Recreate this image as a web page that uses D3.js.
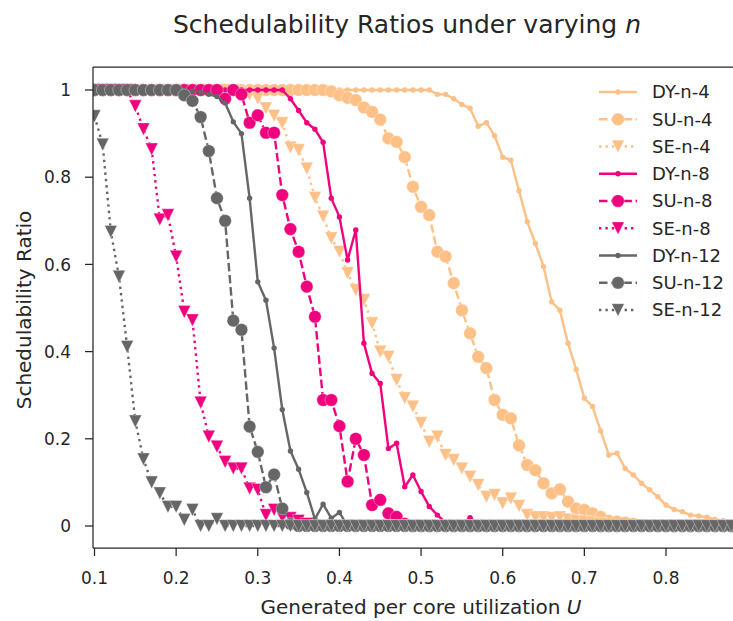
<!DOCTYPE html>
<html>
<head>
<meta charset="utf-8">
<script src="https://cdn.jsdelivr.net/npm/d3@7"></script>
<style>
  body { margin: 0; background: #fff; }
  text { font-family: "DejaVu Sans", sans-serif; fill: #262626; }
</style>
</head>
<body>
<svg id="chart" width="733" height="621"></svg>
<script>
// generated per core utilization U (x values)
var U = [0.10,0.11,0.12,0.13,0.14,0.15,0.16,0.17,0.18,0.19,
         0.20,0.21,0.22,0.23,0.24,0.25,0.26,0.27,0.28,0.29,
         0.30,0.31,0.32,0.33,0.34,0.35,0.36,0.37,0.38,0.39,
         0.40,0.41,0.42,0.43,0.44,0.45,0.46,0.47,0.48,0.49,
         0.50,0.51,0.52,0.53,0.54,0.55,0.56,0.57,0.58,0.59,
         0.60,0.61,0.62,0.63,0.64,0.65,0.66,0.67,0.68,0.69,
         0.70,0.71,0.72,0.73,0.74,0.75,0.76,0.77,0.78,0.79,
         0.80,0.81,0.82,0.83,0.84,0.85,0.86,0.87,0.88,0.89,
         0.90];

var dy4 = [1,1,1,1,1,1,1,1,1,1,
           1,1,1,1,1,1,1,1,1,1,
           1,1,1,1,1,1,1,1,1,1,
           1,1,1,1,1,1,1,1,1,1,
           1,1,0.99,0.99,0.98,0.967,0.958,0.917,0.925,0.895,
           0.846,0.839,0.769,0.698,0.648,0.595,0.514,0.495,0.419,0.359,
           0.293,0.274,0.218,0.163,0.167,0.132,0.117,0.098,0.083,0.067,
           0.048,0.038,0.033,0.025,0.023,0.02,0.015,0.012,0.01,0.008,
           0.005];
var su4 = [1,1,1,1,1,1,1,1,1,1,
           1,1,1,1,1,1,1,1,1,1,
           1,1,1,1,1,1,1,1,1,0.997,
           0.988,0.982,0.977,0.96,0.95,0.932,0.889,0.881,0.846,0.778,
           0.732,0.713,0.629,0.618,0.557,0.495,0.442,0.388,0.362,0.289,
           0.255,0.247,0.185,0.14,0.128,0.098,0.075,0.084,0.056,0.04,
           0.037,0.029,0.021,0.012,0.01,0.008,0.005,0.003,0,0,
           0,0,0,0,0,0,0,0,0,0,
           0];
var se4 = [1,1,1,1,1,1,1,1,1,1,
           1,1,1,1,1,1,1,1,0.995,0.99,
           0.981,0.958,0.941,0.924,0.868,0.862,0.82,0.753,0.71,0.66,
           0.629,0.58,0.541,0.518,0.465,0.40,0.388,0.335,0.293,0.274,
           0.236,0.193,0.205,0.163,0.151,0.132,0.113,0.094,0.067,0.071,
           0.052,0.063,0.046,0.025,0.02,0.02,0.018,0.02,0.015,0.012,
           0.01,0.008,0.005,0,0,0,0,0,0,0,
           0,0,0,0,0,0,0,0,0,0,
           0];
var dy8 = [1,1,1,1,1,1,1,1,1,1,
           1,1,1,1,1,1,1,1,1,1,
           1,1,1,1,0.98,0.953,0.925,0.91,0.88,0.752,
           0.709,0.61,0.679,0.419,0.35,0.327,0.178,0.19,0.09,0.117,
           0.079,0.045,0.025,0.008,0.005,0.005,0.019,0.005,0,0,
           0,0,0,0,0,0,0,0,0,0,
           0,0,0,0,0,0,0,0,0,0,
           0,0,0,0,0,0,0,0,0,0,
           0];
var su8 = [1,1,1,1,1,1,1,1,1,1,
           1,1,1,1,1,1,0.98,1,0.99,0.925,
           0.942,0.902,0.902,0.759,0.681,0.629,0.549,0.48,0.289,0.289,
           0.229,0.102,0.2,0.163,0.048,0.06,0.029,0.021,0.005,0,
           0,0,0,0,0,0,0,0,0,0,
           0,0,0,0,0,0,0,0,0,0,
           0,0,0,0,0,0,0,0,0,0,
           0,0,0,0,0,0,0,0,0,0,
           0];
var se8 = [1,1,1,1,1,0.963,0.91,0.864,0.703,0.713,
           0.618,0.491,0.472,0.283,0.205,0.182,0.147,0.132,0.132,0.086,
           0.083,0.025,0.037,0.021,0.018,0.012,0.005,0,0,0,
           0,0,0,0,0,0,0,0,0,0,
           0,0,0,0,0,0,0,0,0,0,
           0,0,0,0,0,0,0,0,0,0,
           0,0,0,0,0,0,0,0,0,0,
           0,0,0,0,0,0,0,0,0,0,
           0];
var dy12 = [1,1,1,1,1,1,1,1,1,1,
            1,1,0.998,0.995,0.99,0.985,0.97,0.927,0.9,0.752,
            0.56,0.518,0.408,0.267,0.172,0.13,0.077,0.016,0.05,0.018,
            0.031,0,0,0,0,0,0,0,0,0,
            0,0,0,0,0,0,0,0,0,0,
            0,0,0,0,0,0,0,0,0,0,
            0,0,0,0,0,0,0,0,0,0,
            0,0,0,0,0,0,0,0,0,0,
            0];
var su12 = [1,1,1,1,1,1,1,1,1,1,
            1,0.988,0.975,0.938,0.86,0.752,0.7,0.471,0.45,0.228,
            0.17,0.089,0.118,0.04,0.005,0,0,0,0,0,
            0,0,0,0,0,0,0,0,0,0,
            0,0,0,0,0,0,0,0,0,0,
            0,0,0,0,0,0,0,0,0,0,
            0,0,0,0,0,0,0,0,0,0,
            0,0,0,0,0,0,0,0,0,0,
            0];
var se12 = [0.94,0.875,0.675,0.572,0.411,0.24,0.153,0.1,0.075,0.044,
            0.044,0.014,0.037,0,0,0.016,0,0,0,0,
            0,0,0,0,0,0,0,0,0,0,
            0,0,0,0,0,0,0,0,0,0,
            0,0,0,0,0,0,0,0,0,0,
            0,0,0,0,0,0,0,0,0,0,
            0,0,0,0,0,0,0,0,0,0,
            0,0,0,0,0,0,0,0,0,0,
            0];

var names = ["DY-n-4","SU-n-4","SE-n-4","DY-n-8","SU-n-8","SE-n-8","DY-n-12","SU-n-12","SE-n-12"];
var colours = ["#fdc086","#f0027f","#666666"];
var xTicks = [0.1,0.2,0.3,0.4,0.5,0.6,0.7,0.8];
var yTicks = [0,0.2,0.4,0.6,0.8,1];

var series = [
  {name: names[0], values: dy4, colour: colours[0], kind: "DY"},
  {name: names[1], values: su4, colour: colours[0], kind: "SU"},
  {name: names[2], values: se4, colour: colours[0], kind: "SE"},
  {name: names[3], values: dy8, colour: colours[1], kind: "DY"},
  {name: names[4], values: su8, colour: colours[1], kind: "SU"},
  {name: names[5], values: se8, colour: colours[1], kind: "SE"},
  {name: names[6], values: dy12, colour: colours[2], kind: "DY"},
  {name: names[7], values: su12, colour: colours[2], kind: "SU"},
  {name: names[8], values: se12, colour: colours[2], kind: "SE"}
];

var lw = 2.4;
var dashes = {DY: null, SU: "8.5,3.7", SE: "2.4,4"};

var svg = d3.select("#chart");
var axLeft = 93, axTop = 67, axBottom = 548, axRight = 760;

var x = d3.scaleLinear().domain([0.1, 0.8]).range([94.5, 666]);
var y = d3.scaleLinear().domain([0, 1]).range([526, 90]);

svg.append("rect").attr("width", 733).attr("height", 621).attr("fill", "#fff");

svg.append("clipPath").attr("id", "plotclip")
  .append("rect")
    .attr("x", axLeft).attr("y", axTop)
    .attr("width", axRight - axLeft).attr("height", axBottom - axTop);

// draw a marker of a given kind into a selection
function marker(g, kind, colour, cx, cy) {
  if (kind == "DY") {
    g.append("circle").attr("cx", cx).attr("cy", cy).attr("r", 2.7)
      .attr("fill", colour);
  } else if (kind == "SU") {
    g.append("circle").attr("cx", cx).attr("cy", cy).attr("r", 6.3)
      .attr("fill", colour).attr("stroke", "#fff").attr("stroke-width", 0.35);
  } else {
    var s = 6.3;
    g.append("path")
      .attr("d", "M" + (cx - s) + "," + (cy - s) + "L" + (cx + s) + "," + (cy - s) + "L" + cx + "," + (cy + s) + "Z")
      .attr("fill", colour).attr("stroke", "#fff").attr("stroke-width", 0.35);
  }
}

var plot = svg.append("g").attr("clip-path", "url(#plotclip)");

var line = d3.line()
  .x(function(d, i){ return x(U[i]); })
  .y(function(d){ return y(d); });

series.forEach(function(s) {
  var g = plot.append("g");
  g.append("path")
    .attr("d", line(s.values))
    .attr("fill", "none")
    .attr("stroke", s.colour)
    .attr("stroke-width", lw)
    .attr("stroke-linejoin", "round")
    .attr("stroke-dasharray", dashes[s.kind]);
  s.values.forEach(function(v, i){ marker(g, s.kind, s.colour, x(U[i]), y(v)); });
});

// spines
svg.append("line").attr("x1", axLeft).attr("x2", axLeft).attr("y1", axTop).attr("y2", axBottom)
  .attr("stroke", "#262626").attr("stroke-width", 1.25);
svg.append("line").attr("x1", axLeft).attr("x2", axRight).attr("y1", axBottom).attr("y2", axBottom)
  .attr("stroke", "#262626").attr("stroke-width", 1.25);
svg.append("line").attr("x1", axLeft).attr("x2", axRight).attr("y1", axTop).attr("y2", axTop)
  .attr("stroke", "#262626").attr("stroke-width", 1.25);

// y ticks
var yt = svg.append("g").selectAll("g").data(yTicks).enter().append("g")
  .attr("transform", function(d){ return "translate(0," + y(d) + ")"; });
yt.append("line").attr("x1", axLeft - 8).attr("x2", axLeft).attr("stroke", "#262626").attr("stroke-width", 1.25);
yt.append("text").attr("x", axLeft - 22).attr("dy", "0.36em")
  .attr("text-anchor", "end").style("font-size", "17px")
  .text(function(d){ return d3.format("~g")(d); });

// x ticks
var xt = svg.append("g").selectAll("g").data(xTicks).enter().append("g")
  .attr("transform", function(d){ return "translate(" + x(d) + ",0)"; });
xt.append("line").attr("y1", axBottom).attr("y2", axBottom + 8).attr("stroke", "#262626").attr("stroke-width", 1.25);
xt.append("text").attr("y", axBottom + 36).attr("text-anchor", "middle").style("font-size", "17px")
  .text(function(d){ return d3.format(".1f")(d); });

// title and axis labels
var title = svg.append("text").attr("x", 407).attr("y", 33).attr("text-anchor", "middle").style("font-size", "25px");
title.append("tspan").text("Schedulability Ratios under varying ");
title.append("tspan").style("font-style", "italic").text("n");

var xl = svg.append("text").attr("x", 421).attr("y", 614).attr("text-anchor", "middle").style("font-size", "20px");
xl.append("tspan").text("Generated per core utilization ");
xl.append("tspan").style("font-style", "italic").text("U");

svg.append("text")
  .attr("transform", "translate(24,310) rotate(-90)")
  .attr("text-anchor", "middle").attr("dy", "0.36em").style("font-size", "20px")
  .text("Schedulability Ratio");

// legend
var legend = svg.append("g");
var rowY = function(i){ return 92 + i * 27.25; };
series.forEach(function(s, i) {
  var g = legend.append("g");
  g.append("line").attr("x1", 599).attr("x2", 637).attr("y1", rowY(i)).attr("y2", rowY(i))
    .attr("stroke", s.colour).attr("stroke-width", lw)
    .attr("stroke-dasharray", dashes[s.kind]);
  marker(g, s.kind, s.colour, 618, rowY(i));
  g.append("text").attr("x", 652).attr("y", rowY(i)).attr("dy", "0.36em")
    .style("font-size", "18px").text(s.name);
});
</script>
</body>
</html>
